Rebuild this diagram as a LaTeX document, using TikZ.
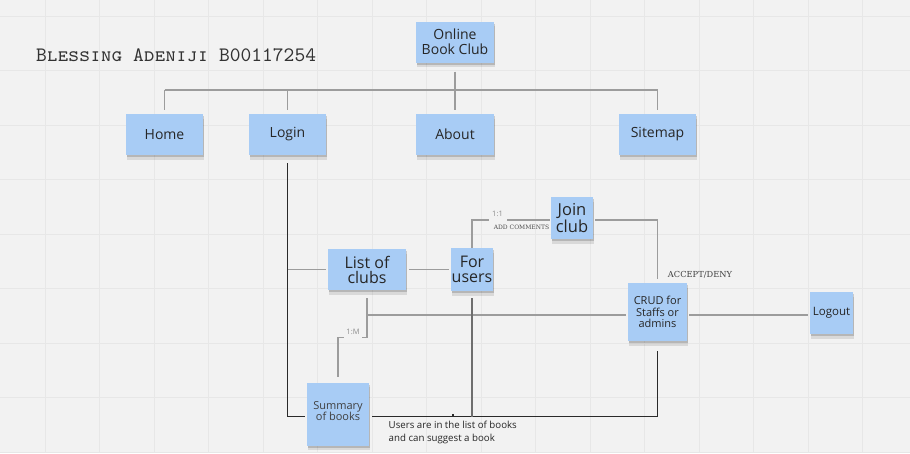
\documentclass[tikz,border=0pt]{standalone}
\usepackage{fontspec}
\setmainfont{Open Sans}
\newfontfamily\slabfont{DejaVu Serif}
\usetikzlibrary{calc,shadows}
\definecolor{bg}{HTML}{F2F2F2}
\definecolor{gridc}{HTML}{E7E7E7}
\definecolor{notec}{HTML}{A8CCF5}
\definecolor{txt}{HTML}{262626}
\definecolor{connc}{HTML}{9C9C9C}
\definecolor{midc}{HTML}{6E6E6E}
\definecolor{darkc}{HTML}{2A2A2A}
\newcommand\fsz[2]{\fontsize{#1}{#2}\selectfont}
\tikzset{
  x=1pt, y=-1pt,
  sticky/.style={rectangle, fill=notec, inner sep=0pt, align=center, text=txt,
    general shadow={fill=black, opacity=0.10, shadow yshift=-4.5pt, shadow xshift=0.8pt},
    general shadow={fill=black, opacity=0.16, shadow yshift=-2pt, shadow xshift=0.5pt}},
  conn/.style={draw=connc, line width=1.3pt},
  darkline/.style={draw=darkc, line width=1.3pt},
  midline/.style={draw=midc, line width=1.3pt},
  tinylbl/.style={font=\fsz{7.5}{8}, text=black!45, inner sep=0pt},
  slablbl/.style={font=\slabfont\fsz{6}{7}, text=black!70, inner sep=0pt},
}
\begin{document}
\begin{tikzpicture}
\fill[bg] (0,0) rectangle (910,453);
\useasboundingbox (0,0) rectangle (910,453);
% grid
\foreach \i in {0,...,15} { \draw[gridc, line width=0.8pt] ({45+54.5*\i},0) -- ({45+54.5*\i},453); }
\foreach \j in {0,...,8} { \draw[gridc, line width=0.8pt] (0,{16+54.5*\j}) -- (910,{16+54.5*\j}); }

% title
\node[anchor=base west, inner sep=0pt, text=black!80, font=\ttfamily\scshape\fsz{20.5}{22}] (title) at (36,61) {Blessing Adeniji B00117254};

% notes
\node[sticky, minimum width=78pt, minimum height=41pt, font=\fsz{14}{15}] (obc) at (455,42) {Online\\Book Club};
\node[sticky, minimum width=77pt, minimum height=41pt, font=\fsz{14}{15}] (home) at (164.5,134.5) {Home};
\node[sticky, minimum width=77pt, minimum height=41pt, font=\fsz{14}{15}] (login) at (287.5,134.5) {Login};
\node[sticky, minimum width=78pt, minimum height=41pt, font=\fsz{14}{15}] (about) at (455,134.5) {About};
\node[sticky, minimum width=77pt, minimum height=41pt, font=\fsz{14}{15}] (sitemap) at (657.5,134.5) {Sitemap};
\node[sticky, minimum width=42pt, minimum height=42pt, font=\fsz{16.5}{15}] (join) at (572,218) {Join\\club};
\node[sticky, minimum width=78pt, minimum height=41pt, font=\fsz{16}{15}] (clubs) at (367,269.5) {List of\\clubs};
\node[sticky, minimum width=42pt, minimum height=43pt, font=\fsz{16}{15}] (users) at (472,269.5) {For\\users};
\node[sticky, minimum width=59pt, minimum height=58pt, font=\fsz{11}{11.7}] (crud) at (657.5,312) {CRUD for\\Staffs or\\admins};
\node[sticky, minimum width=43pt, minimum height=42pt, font=\fsz{11.5}{12}] (logout) at (831.5,313) {Logout};
\node[sticky, minimum width=62pt, minimum height=63pt, font=\fsz{11}{11.7}, text=black!75] (summary) at (338,414) {Summary\\of books\\[-6pt]\mbox{}};

% coordinates
\coordinate (busL) at (164.5,90);
\coordinate (busR) at (657.5,90);
\coordinate (k1) at (472,220);
\coordinate (k2) at (367,337.5);
\coordinate (k3) at (367,315);
\coordinate (k4) at (657.5,416.5);
\coordinate (k5) at (472,416.5);

% top tree
\draw[conn] (busL) -- (busR);
\draw[conn, shorten <=9pt] (obc.south) -- (obc.south |- busL);
\draw[conn, shorten >=4pt] (busL) -- (home.north);
\draw[conn, shorten >=4pt] (login.north |- busL) -- (login.north);
\draw[conn, shorten >=4pt] (about.north |- busL) -- (about.north);
\draw[conn, shorten >=4pt] (busR) -- (sitemap.north);

% login down to summary
\draw[darkline, shorten <=8pt, shorten >=2pt] (login.south) -- (login.south |- k4) -- (k4 -| summary.west);
\draw[conn, shorten >=2pt] (login.south |- clubs) -- (clubs.west);
\draw[conn, shorten <=3pt, shorten >=2pt] (clubs.east) -- (users.west);

% for users to join
\draw[conn, shorten >=1pt] (users.north) -- (k1) -- (k1 -| join.west);
\draw[conn, shorten <=2pt, shorten >=4pt] (k1 -| join.east) -- (k1 -| crud.north) -- (crud.north);

% clubs to crud and summary
\draw[conn, shorten <=8pt] (clubs.south) -- (k2) -- (k2 -| summary.north) -- ($(summary.north)+(0,-5)$);
\draw[conn, shorten >=2pt] (k3) -- (k3 -| crud.west);
\draw[conn, shorten <=2pt, shorten >=2pt] (k3 -| crud.east) -- (k3 -| logout.west);

% bottom
\draw[darkline, shorten <=3pt] (k4 -| summary.east) -- (k4) -- ($(crud.south)+(0,10)$);
\draw[midline, shorten <=7pt] (users.south) -- (k5);
\fill[darkc] (452.3,413.5) rectangle (454.3,416);

% labels
\node[tinylbl, fill=bg, minimum width=18pt, minimum height=15pt] (l11) at (497.5,214) {1:1};
\node[slablbl] (ladd) at (521.5,227.5) {ADD COMMENTS};
\node[tinylbl, fill=bg, minimum width=18pt, minimum height=12pt] (l1m) at (353,332) {1:M};
\node[slablbl, font=\slabfont\fsz{8.3}{9}, text=black!75] (lacc) at (700,274.5) {ACCEPT/DENY};
\node[anchor=north west, align=left, inner sep=0pt, text=txt, font=\fsz{9.7}{13.5}] (note) at (388.5,420.5) {Users are in the list of books\\and can suggest a book};
\end{tikzpicture}
\end{document}
